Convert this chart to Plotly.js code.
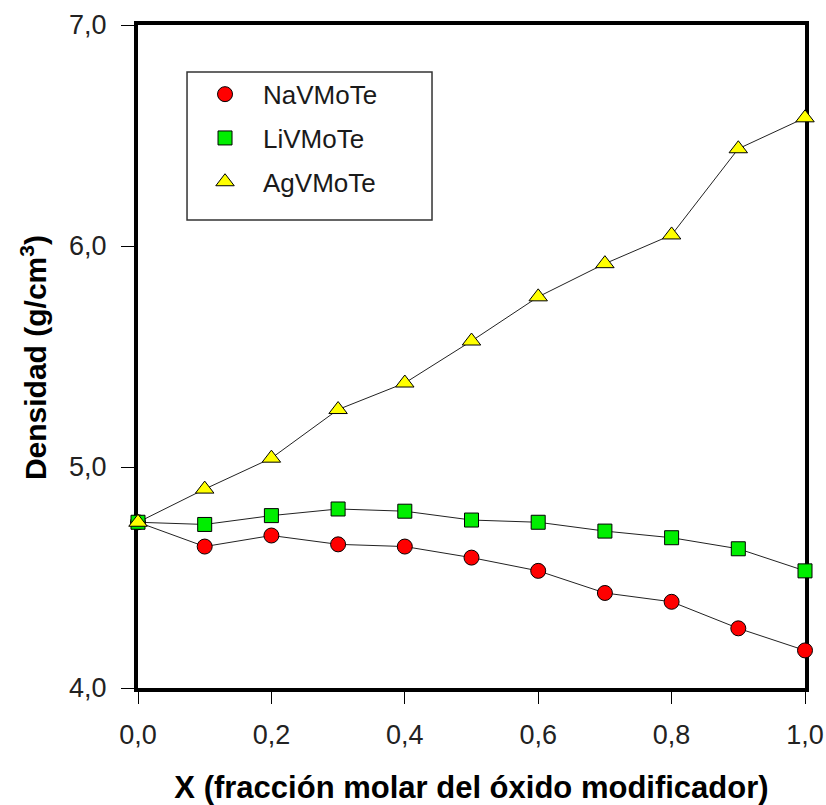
<!DOCTYPE html>
<html>
<head>
<meta charset="utf-8">
<script src="https://cdn.plot.ly/plotly-3.0.1.min.js"></script>
<style>html,body{margin:0;padding:0;background:#fff;}#chart{width:826px;height:805px;}</style>
</head>
<body>
<div id="chart"></div>
<script>
var xValues = [0.0, 0.1, 0.2, 0.3, 0.4, 0.5, 0.6, 0.7, 0.8, 0.9, 1.0];
var naVMoTe = [4.75, 4.64, 4.69, 4.65, 4.64, 4.59, 4.53, 4.43, 4.39, 4.27, 4.17];
var liVMoTe = [4.75, 4.74, 4.78, 4.81, 4.80, 4.76, 4.75, 4.71, 4.68, 4.63, 4.53];
var agVMoTe = [4.75, 4.90, 5.04, 5.26, 5.38, 5.57, 5.77, 5.92, 6.05, 6.44, 6.58];
var seriesNames = ['NaVMoTe', 'LiVMoTe', 'AgVMoTe'];
var xTickVals = [0.0, 0.2, 0.4, 0.6, 0.8, 1.0];
var yTickVals = [4.0, 5.0, 6.0, 7.0];
var xTitle = 'X (fracción molar del óxido modificador)';
var yTitle = 'Densidad (g/cm<sup>3</sup>)';

var seriesY = [naVMoTe, liVMoTe, agVMoTe];
var markers = [
  {symbol: 'circle', size: 15, color: '#ff0000', line: {color: '#000', width: 1}},
  {symbol: 'square', size: 14, color: '#00ee00', line: {color: '#000', width: 1}},
  {symbol: 'triangle-up', size: 16, color: '#ffff00', line: {color: '#000', width: 1}}
];

var traces = [];
for (var i = 0; i < 3; i++) {
  traces.push({x: xValues, y: seriesY[i], mode: 'lines', type: 'scatter', showlegend: false,
    hoverinfo: 'skip', line: {color: '#222', width: 1}, cliponaxis: false});
}
for (var j = 0; j < 3; j++) {
  traces.push({x: xValues, y: seriesY[j], name: seriesNames[j], mode: 'markers', type: 'scatter',
    marker: markers[j], cliponaxis: false, legendgroup: 'g' + j});
}

var layout = {
  width: 826, height: 805,
  margin: {l: 138, r: 21, t: 25, b: 117},
  paper_bgcolor: '#fff', plot_bgcolor: '#fff',
  separators: ',.',
  showlegend: true,
  legend: {
    x: 0.0735, y: 0.931, xanchor: 'left', yanchor: 'top',
    bgcolor: 'rgba(0,0,0,0)', borderwidth: 0,
    font: {family: 'Liberation Sans, Arial, sans-serif', size: 26, color: '#1a1a1a'},
    tracegroupgap: 7, itemwidth: 66,
    itemclick: false
  },
  shapes: [{
    type: 'rect', xref: 'paper', yref: 'paper', layer: 'below',
    x0: 0.0735, x1: 0.4408, y0: 0.706, y1: 0.929,
    line: {color: '#333', width: 1.5}, fillcolor: 'rgba(0,0,0,0)'
  }],
  annotations: [{
    text: '<b>' + yTitle + '</b>', xref: 'paper', yref: 'paper',
    x: -0.156, y: 0.499, xanchor: 'center', yanchor: 'middle', textangle: -90,
    showarrow: false,
    font: {family: 'Liberation Sans, Arial, sans-serif', size: 30, color: '#000'}
  }],
  xaxis: {
    range: [0, 1], tickvals: xTickVals, tickformat: '.1f',
    showgrid: false, zeroline: false,
    showline: true, linecolor: '#000', linewidth: 4, mirror: true,
    ticks: 'outside', ticklen: 12, tickwidth: 1, tickcolor: '#000',
    ticklabelstandoff: 8,
    tickfont: {family: 'Liberation Sans, Arial, sans-serif', size: 27, color: '#222'},
    layer: 'below traces',
    title: {text: '<b>' + xTitle + '</b>', standoff: 28,
            font: {family: 'Liberation Sans, Arial, sans-serif', size: 31, color: '#000'}}
  },
  yaxis: {
    range: [4, 7], tickvals: yTickVals, tickformat: '.1f',
    showgrid: false, zeroline: false,
    showline: true, linecolor: '#000', linewidth: 4, mirror: true,
    ticks: 'outside', ticklen: 13, tickwidth: 1, tickcolor: '#000',
    ticklabelstandoff: 9,
    tickfont: {family: 'Liberation Sans, Arial, sans-serif', size: 27, color: '#222'},
    layer: 'below traces'
  }
};

Plotly.newPlot('chart', traces, layout, {displayModeBar: false, staticPlot: true});
</script>
</body>
</html>
